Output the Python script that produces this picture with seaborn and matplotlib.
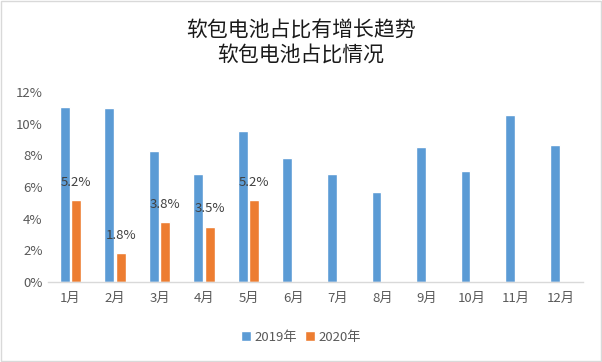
import matplotlib
matplotlib.use("Agg")
import matplotlib.pyplot as plt
import seaborn as sns
import pandas as pd
from matplotlib.ticker import FuncFormatter

months = ["1月", "2月", "3月", "4月", "5月", "6月", "7月", "8月", "9月", "10月", "11月", "12月"]
values_2019 = [11.05, 11.0, 8.3, 6.8, 9.55, 7.8, 6.8, 5.7, 8.55, 7.0, 10.55, 8.65]
months_2020 = ["1月", "2月", "3月", "4月", "5月"]
values_2020 = [5.2, 1.8, 3.8, 3.5, 5.2]
series = ["2019年", "2020年"]
title = "软包电池占比有增长趋势\n软包电池占比情况"

df = pd.concat([
    pd.DataFrame({"month": months, "value": values_2019, "year": series[0]}),
    pd.DataFrame({"month": months_2020, "value": values_2020, "year": series[1]}),
], ignore_index=True)

sns.set_style("white")
plt.rcParams['font.family'] = ['Noto Sans CJK SC', 'DejaVu Sans']

fig = plt.figure(figsize=(6.02, 3.62), dpi=100)
ax = fig.add_axes([0.08, 0.221, 0.888, 0.525])

palette = {"2019年": "#5B9BD5", "2020年": "#ED7D31"}
sns.barplot(data=df, x="month", y="value", hue="year", order=months,
            hue_order=series, palette=palette, width=0.52, gap=0.15,
            saturation=1, ax=ax, legend=True)

ax.set_ylim(0, 12)
ax.set_yticks(range(0, 13, 2))
ax.yaxis.set_major_formatter(FuncFormatter(lambda v, p: f"{int(v)}%"))
ax.set_xlim(-0.5, 11.5)
ax.set_xlabel("")
ax.set_ylabel("")
for s in ["top", "right", "left"]:
    ax.spines[s].set_visible(False)
ax.spines["bottom"].set_color("#D9D9D9")
ax.spines["bottom"].set_linewidth(1)
ax.tick_params(axis="both", length=0, labelsize=9.5, colors="#595959", pad=7)
ax.tick_params(axis="y", pad=4)

# data labels for 2020 series
cont = ax.containers[1]
ax.bar_label(cont, labels=[f"{v:.1f}%" for v in values_2020], padding=8,
             fontsize=9.5, color="#404040")

handles, labels = ax.get_legend_handles_labels()
ax.legend_.remove()
fig.legend(handles, labels, loc="center", bbox_to_anchor=(0.5, 0.068), ncol=2,
           frameon=False, fontsize=9.5, handlelength=0.75, handleheight=0.75,
           handletextpad=0.3, columnspacing=0.6, labelcolor="#595959")

fig.suptitle(title, fontsize=15, y=0.947, color="#1a1a1a", linespacing=1.15,
             fontweight="light")

fig.patches.append(plt.Rectangle((0.002, 0.003), 0.996, 0.994, transform=fig.transFigure,
                                 fill=False, edgecolor="#D9D9D9", linewidth=1))

fig.savefig("out.png", dpi=100)
